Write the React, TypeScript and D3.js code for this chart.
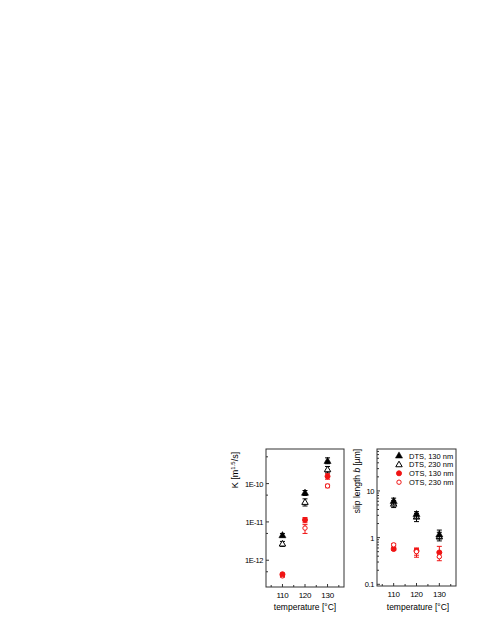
import React, { useEffect, useRef } from 'react';
import * as d3 from 'd3';

// ==== data

const temps = [110, 120, 130];

const kDts130 = [4.5e-12, 5.8e-11, 3.9e-10];
const kDts130Lo = [4.0e-12, 4.9e-11, 3.3e-10];
const kDts130Hi = [5.0e-12, 6.6e-11, 4.7e-10];
const kDts230 = [2.7e-12, 3.3e-11, 2.35e-10];
const kDts230Lo = [2.3e-12, 2.6e-11, 1.9e-10];
const kDts230Hi = [3.1e-12, 4.0e-11, 2.8e-10];
const kOts130 = [4.3e-13, 1.13e-11, 1.55e-10];
const kOts130Lo = [4.0e-13, 9.5e-12, 1.3e-10];
const kOts130Hi = [4.6e-13, 1.3e-11, 1.8e-10];
const kOts230 = [3.9e-13, 6.9e-12, 8.7e-11];
const kOts230Lo = [3.6e-13, 5.0e-12, 7.8e-11];
const kOts230Hi = [4.2e-13, 8.5e-12, 9.6e-11];

const bDts130 = [6.1, 3.2, 1.17];
const bDts130Lo = [5.0, 2.6, 0.95];
const bDts130Hi = [7.0, 3.6, 1.45];
const bDts230 = [5.3, 2.8, 1.05];
const bDts230Lo = [4.4, 2.2, 0.85];
const bDts230Hi = [6.2, 3.3, 1.3];
const bOts130 = [0.57, 0.52, 0.48];
const bOts130Lo = [0.53, 0.42, 0.38];
const bOts130Hi = [0.62, 0.6, 0.65];
const bOts230 = [0.7, 0.5, 0.39];
const bOts230Lo = [0.66, 0.38, 0.32];
const bOts230Hi = [0.75, 0.58, 0.5];

const kTicks = [1e-12, 1e-11, 1e-10];
const kTickLabels = ['1E-12', '1E-11', '1E-10'];
const bTicks = [0.1, 1, 10];
const bTickLabels = ['0.1', '1', '10'];
const xTicks = [110, 120, 130];
const legendNames = ['DTS, 130 nm', 'DTS, 230 nm', 'OTS, 130 nm', 'OTS, 230 nm'];

// ====

const RED = '#f01414';
const FONT = '"Liberation Sans", Arial, sans-serif';

function drawPanel(svg, opts) {
    const { left, right, top, bottom, yDomain, yTicks, yLabels, minor, series } = opts;

    const x = d3.scaleLinear().domain([102.7, 137.3]).range([left, right]);
    const y = d3.scaleLog().domain(yDomain).range([bottom, top]);

    const g = svg.append('g');

    // frame
    g.append('rect')
        .attr('x', left).attr('y', top)
        .attr('width', right - left).attr('height', bottom - top)
        .attr('fill', 'none').attr('stroke', '#333').attr('stroke-width', 1);

    // x ticks (inside)
    const xMinor = [105, 115, 125, 135];
    xTicks.forEach((t) => {
        g.append('line').attr('x1', x(t)).attr('x2', x(t))
            .attr('y1', bottom).attr('y2', bottom - 3).attr('stroke', '#333');
        g.append('text').attr('x', x(t)).attr('y', bottom + 10.5)
            .attr('text-anchor', 'middle').attr('font-size', 8).attr('font-family', FONT)
            .attr('letter-spacing', -0.2)
            .text(String(t));
    });
    xMinor.forEach((t) => {
        g.append('line').attr('x1', x(t)).attr('x2', x(t))
            .attr('y1', bottom).attr('y2', bottom - 2).attr('stroke', '#333');
    });

    // y ticks
    yTicks.forEach((t, i) => {
        g.append('line').attr('x1', left).attr('x2', left + 3)
            .attr('y1', y(t)).attr('y2', y(t)).attr('stroke', '#333');
        g.append('text').attr('x', left - 3).attr('y', y(t) + 3)
            .attr('text-anchor', 'end').attr('font-size', 7.5).attr('font-family', FONT)
            .attr('letter-spacing', -0.4)
            .text(yLabels[i]);
    });
    minor.filter((m) => m > yDomain[0] && m < yDomain[1]).forEach((m) => {
        g.append('line').attr('x1', left).attr('x2', left + 2)
            .attr('y1', y(m)).attr('y2', y(m)).attr('stroke', '#333');
    });

    // error bars + markers
    series.forEach((s) => {
        temps.forEach((t, i) => {
            const cx = x(t);
            const eg = g.append('g').attr('stroke', s.color).attr('stroke-width', 1);
            eg.append('line').attr('x1', cx).attr('x2', cx)
                .attr('y1', y(s.lo[i])).attr('y2', y(s.hi[i]));
            [s.lo[i], s.hi[i]].forEach((v) => {
                eg.append('line').attr('x1', cx - 2.5).attr('x2', cx + 2.5)
                    .attr('y1', y(v)).attr('y2', y(v));
            });
            drawMarker(g, s, cx, y(s.val[i]));
        });
    });
}

function drawMarker(g, s, cx, cy) {
    if (s.shape === 'tri') {
        const tri = d3.symbol().type(d3.symbolTriangle).size(s.filled ? 22 : 18);
        g.append('path').attr('d', tri())
            .attr('transform', `translate(${cx},${cy + 0.5})`)
            .attr('fill', s.filled ? s.color : '#fff')
            .attr('stroke', s.color).attr('stroke-width', s.filled ? 0.5 : 1);
    } else {
        g.append('circle').attr('cx', cx).attr('cy', cy)
            .attr('r', s.filled ? 2.5 : 2.2)
            .attr('fill', s.filled ? s.color : '#fff')
            .attr('stroke', s.color).attr('stroke-width', 1);
    }
}

function App() {
    const ref = useRef(null);

    useEffect(() => {
        document.body.style.margin = '0';
        const svg = d3.select(ref.current);
        svg.selectAll('*').remove();

        const kMinor = [];
        [-13, -12, -11, -10].forEach((e) => kMinor.push(5 * Math.pow(10, e)));
        const bMinor = [];
        [-2, -1, 0, 1].forEach((e) => {
            for (let k = 2; k <= 9; k++) bMinor.push(k * Math.pow(10, e));
        });

        const styles = [
            { shape: 'tri', filled: true, color: '#000' },
            { shape: 'tri', filled: false, color: '#000' },
            { shape: 'circ', filled: true, color: RED },
            { shape: 'circ', filled: false, color: RED }
        ];

        drawPanel(svg, {
            left: 266, right: 344, top: 449, bottom: 587,
            yDomain: [2e-13, 8e-10], yTicks: kTicks, yLabels: kTickLabels, minor: kMinor,
            series: [
                { ...styles[1], val: kDts230, lo: kDts230Lo, hi: kDts230Hi },
                { ...styles[0], val: kDts130, lo: kDts130Lo, hi: kDts130Hi },
                { ...styles[3], val: kOts230, lo: kOts230Lo, hi: kOts230Hi },
                { ...styles[2], val: kOts130, lo: kOts130Lo, hi: kOts130Hi }
            ]
        });

        drawPanel(svg, {
            left: 377, right: 456, top: 449, bottom: 586,
            yDomain: [0.092, 79], yTicks: bTicks, yLabels: bTickLabels, minor: bMinor,
            series: [
                { ...styles[1], val: bDts230, lo: bDts230Lo, hi: bDts230Hi },
                { ...styles[0], val: bDts130, lo: bDts130Lo, hi: bDts130Hi },
                { ...styles[2], val: bOts130, lo: bOts130Lo, hi: bOts130Hi },
                { ...styles[3], val: bOts230, lo: bOts230Lo, hi: bOts230Hi }
            ]
        });

        // legend
        legendNames.forEach((name, i) => {
            const ly = 455.5 + i * 8.9;
            drawMarker(svg, styles[i], 399, ly);
            svg.append('text').attr('x', 409).attr('y', ly + 3)
                .attr('font-size', 7.5).attr('font-family', FONT).text(name);
        });

        // axis titles
        const kt = svg.append('text')
            .attr('transform', 'translate(238,470) rotate(-90)')
            .attr('text-anchor', 'middle').attr('font-size', 9).attr('font-family', FONT);
        kt.append('tspan').text('K [m');
        kt.append('tspan').attr('font-size', 6).attr('dy', -3.5).text('1.5');
        kt.append('tspan').attr('dy', 3.5).text('/s]');

        const bt = svg.append('text')
            .attr('transform', 'translate(360,481) rotate(-90)')
            .attr('text-anchor', 'middle').attr('font-size', 8.5).attr('font-family', FONT);
        bt.append('tspan').text('slip length ');
        bt.append('tspan').attr('font-style', 'italic').text('b');
        bt.append('tspan').text(' [\u00b5m]');

        [305, 418].forEach((cx) => {
            svg.append('text').attr('x', cx).attr('y', 610)
                .attr('text-anchor', 'middle').attr('font-size', 8.5).attr('font-family', FONT)
                .text('temperature [\u00b0C]');
        });
    }, []);

    return (
        <svg
            ref={ref}
            width={491}
            height={635}
            style={{ position: 'absolute', left: 0, top: 0, background: '#fff' }}>
        </svg>
    );
}

export default App;
